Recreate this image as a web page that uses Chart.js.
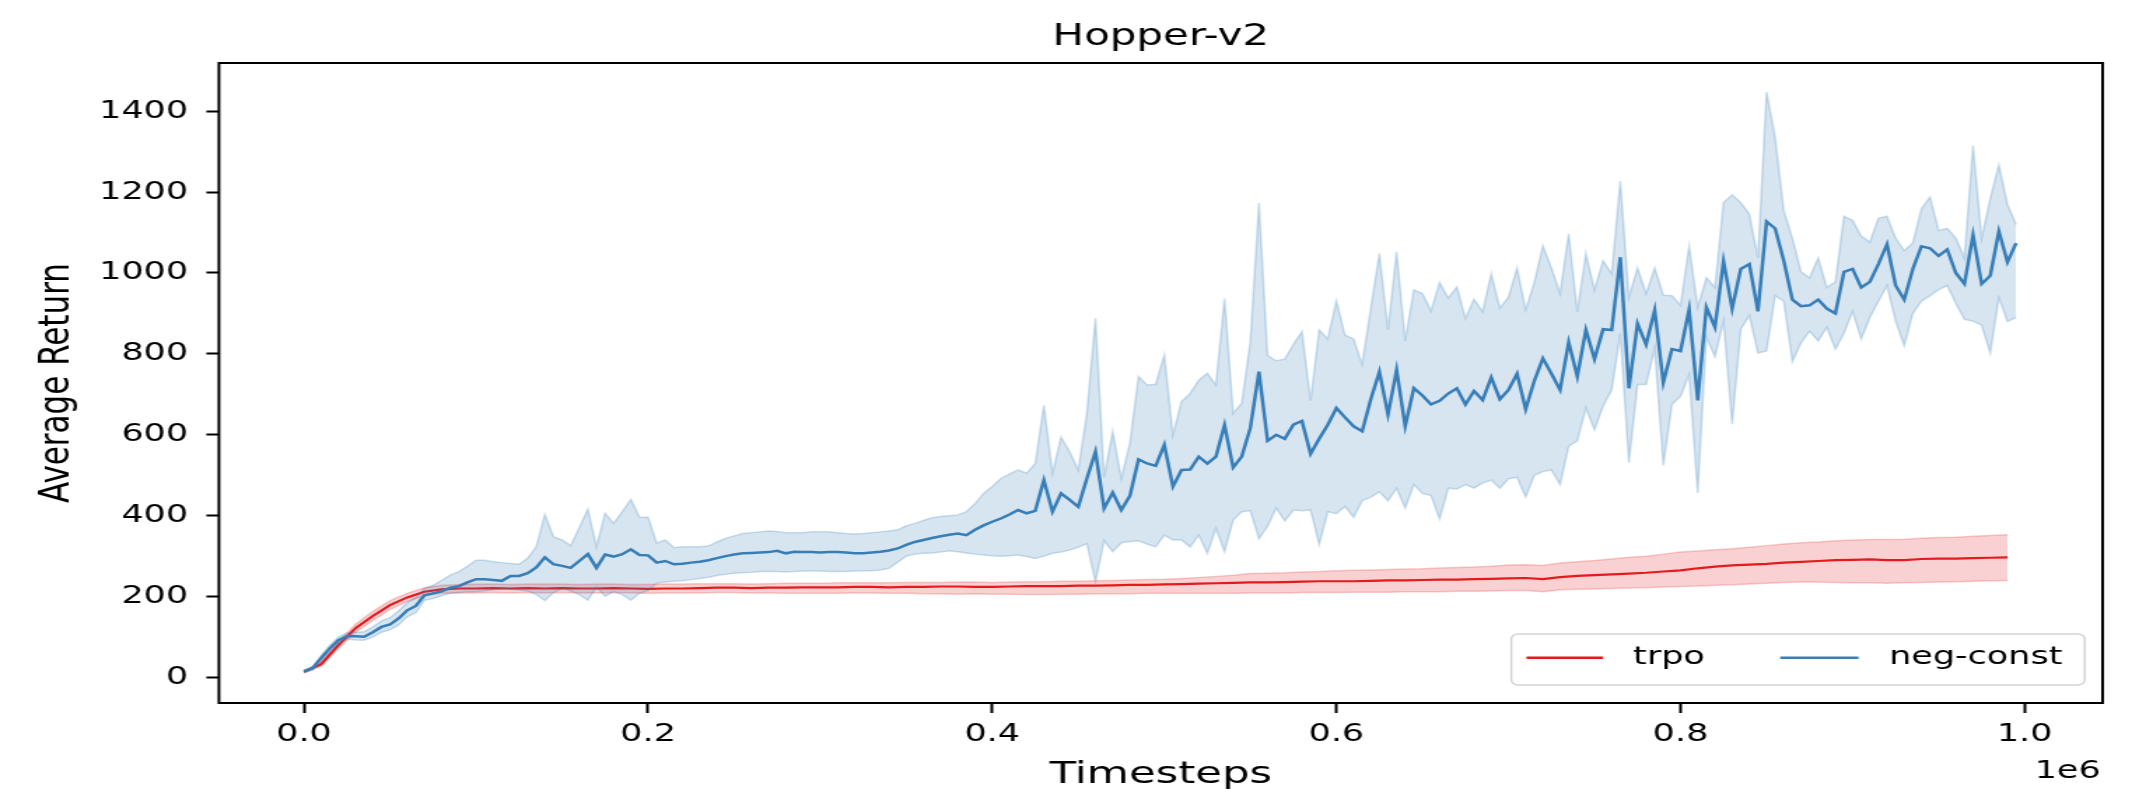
<!DOCTYPE html>
<html>
<head>
<meta charset="utf-8">
<script src="https://cdn.jsdelivr.net/npm/chart.js@4.4.1/dist/chart.umd.min.js"></script>
<style>
  html, body { margin: 0; padding: 0; background: #fff; overflow: hidden; }
  /* the reference is stretched sideways, so the chart is drawn narrow and widened */
  #wrap { width: 1533px; height: 796px; transform: scaleX(1.39987); transform-origin: 0 0; }
</style>
</head>
<body>
<div id="wrap"><canvas id="chart" width="1533" height="796"></canvas></div>
<script>
const seriesNames = ['trpo', 'neg-const'];
const negConstStep = 5000;   // timesteps between neg-const samples
const trpoStep = 10000;      // timesteps between trpo samples

const negConstMean = [
  15, 23, 48, 72, 92, 102, 102, 101, 112, 125,
  131, 146, 166, 177, 203, 208, 213, 222, 226, 235,
  243, 243, 241, 239, 251, 251, 258, 272, 297, 280,
  276, 271, 288, 305, 271, 304, 299, 305, 317, 303,
  302, 284, 288, 280, 281, 284, 286, 290, 295, 300,
  304, 307, 308, 309, 310, 313, 307, 311, 310, 310,
  309, 310, 310, 309, 307, 307, 309, 311, 314, 319,
  328, 335, 340, 345, 349, 353, 356, 352, 365, 376,
  385, 393, 403, 414, 406, 412, 488, 410, 455, 439,
  422, 492, 558, 418, 457, 414, 449, 539, 529, 523,
  575, 472, 513, 514, 546, 529, 546, 624, 519, 546,
  617, 756, 585, 600, 590, 625, 634, 553, 590, 625,
  666, 643, 621, 609, 688, 756, 650, 760, 621, 715,
  697, 675, 684, 702, 715, 675, 708, 686, 742, 688,
  711, 751, 663, 733, 789, 751, 711, 829, 744, 859,
  787, 861, 859, 1039, 715, 875, 823, 908, 729, 812,
  807, 910, 685, 915, 866, 1029, 912, 1010, 1022, 905,
  1127, 1110, 1030, 934, 918, 920, 934, 912, 900, 1003,
  1010, 964, 978, 1022, 1071, 969, 934, 1010, 1066, 1061,
  1042, 1058, 1000, 973, 1094, 973, 993, 1103, 1027, 1074
];
const negConstUpper = [
  18, 27, 55, 80, 100, 110, 112, 113, 125, 140,
  148, 165, 185, 198, 220, 228, 240, 253, 262, 275,
  290, 290, 286, 284, 282, 280, 295, 323, 403, 348,
  340, 326, 370, 416, 323, 406, 381, 410, 440, 396,
  396, 332, 340, 321, 323, 323, 323, 325, 335, 344,
  350, 356, 358, 360, 362, 361, 358, 358, 358, 360,
  360, 360, 358, 356, 355, 356, 358, 360, 362, 365,
  375, 381, 388, 395, 398, 400, 402, 410, 430, 455,
  472, 492, 503, 513, 505, 529, 673, 505, 594, 558,
  513, 653, 888, 496, 608, 492, 579, 744, 723, 725,
  797, 599, 682, 702, 735, 752, 723, 937, 653, 678,
  830, 1173, 796, 783, 787, 823, 855, 684, 859, 837,
  931, 846, 837, 774, 913, 1048, 859, 1052, 832, 958,
  949, 906, 976, 938, 965, 888, 935, 904, 998, 913,
  940, 1012, 909, 976, 1067, 1012, 949, 1097, 904, 1048,
  958, 1030, 998, 1227, 940, 1012, 949, 1012, 945, 944,
  920, 1066, 915, 988, 964, 1174, 1193, 1174, 1145, 1037,
  1447, 1335, 1154, 1086, 1003, 988, 1037, 964, 978, 1140,
  1130, 1091, 1076, 1135, 1140, 1086, 1055, 1074, 1159, 1188,
  1105, 1110, 1086, 1037, 1315, 1086, 1184, 1267, 1169, 1120
];
const negConstLower = [
  12, 19, 42, 64, 84, 95, 93, 92, 100, 112,
  118, 130, 150, 160, 191, 195, 202, 208, 210, 212,
  212, 214, 217, 220, 218, 216, 214, 205, 190, 210,
  220, 214, 205, 191, 224, 201, 212, 205, 191, 208,
  215, 233, 236, 238, 239, 242, 245, 248, 252, 255,
  258, 259, 260, 262, 262, 262, 261, 262, 263, 263,
  263, 262, 262, 262, 263, 264, 264, 266, 270, 285,
  300, 305, 307, 308, 310, 313, 311, 308, 305, 303,
  301, 300, 301, 303, 299, 294, 300, 307, 310, 315,
  322, 331, 237, 338, 311, 333, 336, 338, 330, 323,
  352, 340, 340, 323, 352, 307, 369, 311, 389, 410,
  412, 343, 374, 419, 387, 414, 412, 414, 329, 410,
  405, 423, 396, 437, 446, 459, 437, 468, 419, 477,
  455, 450, 392, 468, 466, 477, 468, 481, 488, 468,
  491, 495, 446, 500, 509, 513, 477, 572, 585, 666,
  612, 671, 711, 850, 531, 724, 724, 814, 524, 675,
  695, 749, 456, 842, 793, 881, 626, 861, 895, 802,
  807, 944, 930, 781, 827, 856, 832, 866, 812, 851,
  905, 837, 890, 930, 969, 881, 820, 900, 930, 944,
  959, 969, 925, 885, 881, 871, 802, 939, 880, 890
];

const trpoMean = [
  14, 33, 80, 122, 152, 179, 198, 212, 218, 220,
  220, 221, 220, 221, 220, 221, 220, 220, 221, 220,
  219, 220, 220, 221, 222, 222, 221, 222, 222, 223,
  223, 223, 224, 224, 223, 224, 224, 225, 225, 224,
  224, 225, 226, 226, 226, 227, 227, 228, 229, 229,
  230, 231, 232, 233, 234, 235, 235, 236, 237, 238,
  238, 238, 239, 240, 240, 241, 242, 242, 243, 244,
  245, 246, 243, 248, 251, 253, 255, 257, 259, 262,
  265, 270, 274, 277, 279, 281, 284, 286, 288, 290,
  291, 292, 290, 290, 293, 294, 294, 295, 296, 297
];
const trpoUpper = [
  17, 38, 88, 132, 163, 190, 208, 222, 228, 230,
  231, 231, 230, 231, 231, 231, 230, 231, 231, 230,
  230, 231, 231, 232, 232, 232, 231, 232, 233, 233,
  233, 234, 234, 234, 234, 235, 235, 235, 236, 236,
  235, 236, 237, 237, 238, 238, 239, 240, 241, 242,
  243, 245, 247, 250, 253, 257, 258, 259, 261, 262,
  264, 265, 266, 267, 268, 269, 271, 272, 273, 275,
  278, 279, 277, 283, 286, 289, 293, 297, 300, 305,
  310, 313, 316, 318, 322, 326, 330, 333, 335, 338,
  340, 341, 341, 342, 344, 346, 347, 349, 351, 353
];
const trpoLower = [
  11, 28, 72, 112, 141, 168, 188, 202, 208, 209,
  209, 210, 209, 210, 209, 210, 209, 209, 210, 209,
  208, 209, 209, 209, 210, 210, 209, 209, 208, 208,
  208, 208, 209, 209, 208, 208, 207, 207, 206, 207,
  206, 206, 205, 205, 206, 206, 207, 207, 207, 208,
  208, 208, 208, 208, 208, 209, 209, 209, 210, 210,
  210, 211, 211, 211, 212, 212, 212, 213, 213, 214,
  215, 215, 212, 217, 218, 219, 220, 221, 222, 224,
  225, 226, 228, 229, 231, 233, 235, 236, 236, 235,
  234, 234, 233, 234, 235, 236, 237, 238, 239, 240
];

const xTicks = [0, 200000, 400000, 600000, 800000, 1000000];
const yTicks = [0, 200, 400, 600, 800, 1000, 1200, 1400];

const RED = '#e41a1c';
const BLUE = '#377eb8';
const FONT = "'DejaVu Sans', sans-serif";

function toPoints(values, step) {
    return values.map((v, i) => ({x: i * step, y: v}));
}

function bandSet(values, step, edge, fillColor, fill, order) {
    return {
        data: toPoints(values, step),
        borderColor: edge,
        borderWidth: 1.5,
        backgroundColor: fillColor,
        fill: fill,
        pointRadius: 0,
        order: order
    };
}

// box round the plot, the legend and the 1e6 offset text
const framePlugin = {
    id: 'framePlugin',
    afterDatasetsDraw(chart) {
        const {ctx, chartArea: a} = chart;
        ctx.save();
        ctx.strokeStyle = '#000';
        ctx.lineWidth = 2;
        ctx.strokeRect(a.left, a.top, a.right - a.left, a.bottom - a.top);

        const boxW = 409.6, boxH = 51;
        const bx = a.right - 12.8 - boxW;
        const by = a.bottom - 18 - boxH;
        ctx.beginPath();
        ctx.roundRect(bx, by, boxW, boxH, 5);
        ctx.fillStyle = 'rgba(255,255,255,0.8)';
        ctx.fill();
        ctx.strokeStyle = '#d3d3d3';
        ctx.lineWidth = 1.5;
        ctx.stroke();

        const ly = by + 23.7;
        const items = [
            {color: RED, x0: 10.8, x1: 65.6, tx: 87, label: seriesNames[0]},
            {color: BLUE, x0: 192.1, x1: 248, tx: 269.8, label: seriesNames[1]}
        ];
        ctx.font = '25px ' + FONT;
        ctx.textBaseline = 'middle';
        ctx.textAlign = 'left';
        items.forEach(it => {
            ctx.strokeStyle = it.color;
            ctx.lineWidth = 2.5;
            ctx.beginPath();
            ctx.moveTo(bx + it.x0, ly);
            ctx.lineTo(bx + it.x1, ly);
            ctx.stroke();
            ctx.fillStyle = '#000';
            ctx.fillText(it.label, bx + it.tx, ly);
        });

        ctx.textAlign = 'right';
        ctx.fillText('1e6', a.right - 1.4, 771);
        ctx.restore();
    }
};

const ctx = document.getElementById('chart');
const chart = new Chart(ctx, {
    type: 'line',
    data: {
        datasets: [
            {
                label: seriesNames[1],
                data: toPoints(negConstMean, negConstStep),
                borderColor: BLUE,
                borderWidth: 2.5,
                pointRadius: 0,
                fill: false,
                order: 3
            },
            bandSet(negConstUpper, negConstStep, 'rgba(55,126,184,0.25)', 'rgba(55,126,184,0.2)', '+1', 4),
            bandSet(negConstLower, negConstStep, 'rgba(55,126,184,0.25)', 'transparent', false, 4),
            {
                label: seriesNames[0],
                data: toPoints(trpoMean, trpoStep),
                borderColor: RED,
                borderWidth: 2.2,
                pointRadius: 0,
                fill: false,
                order: 5
            },
            bandSet(trpoUpper, trpoStep, 'rgba(228,26,28,0.22)', 'rgba(228,26,28,0.2)', '+1', 6),
            bandSet(trpoLower, trpoStep, 'rgba(228,26,28,0.22)', 'transparent', false, 6)
        ]
    },
    options: {
        responsive: false,
        animation: false,
        devicePixelRatio: 1,
        events: [],
        parsing: false,
        layout: {padding: {left: 0, right: 31, top: 0, bottom: 0}},
        plugins: {
            legend: {display: false},
            tooltip: {enabled: false},
            title: {
                display: true,
                fullSize: false,
                text: 'Hopper-v2',
                color: '#000',
                font: {family: FONT, size: 30, weight: 'normal'},
                padding: {top: 19, bottom: 8}
            }
        },
        scales: {
            x: {
                type: 'linear',
                min: -49400,
                max: 1045300,
                border: {display: false},
                grid: {drawOnChartArea: false, drawTicks: true, tickLength: 10, tickWidth: 2, tickColor: '#000'},
                afterBuildTicks: (scale) => { scale.ticks = xTicks.map(v => ({value: v})); },
                afterFit: (scale) => { scale.height = 93; },
                ticks: {
                    color: '#000',
                    padding: 6,
                    maxRotation: 0,
                    font: {family: FONT, size: 25},
                    callback: (v) => (v / 1e6).toFixed(1)
                },
                title: {
                    display: true,
                    text: 'Timesteps',
                    color: '#000',
                    font: {family: FONT, size: 31},
                    padding: {top: 0, bottom: 2}
                }
            },
            y: {
                type: 'linear',
                min: -63,
                max: 1519,
                border: {display: false},
                grid: {drawOnChartArea: false, drawTicks: true, tickLength: 9, tickWidth: 2, tickColor: '#000'},
                afterBuildTicks: (scale) => { scale.ticks = yTicks.map(v => ({value: v})); },
                afterFit: (scale) => { scale.width = 156.4; },
                ticks: {
                    color: '#000',
                    padding: 13,
                    font: {family: FONT, size: 25},
                    callback: (v) => String(v)
                },
                title: {
                    display: true,
                    text: 'Average Return',
                    color: '#000',
                    font: {family: FONT, size: 31},
                    padding: {top: 22, bottom: 0}
                }
            }
        }
    },
    plugins: [framePlugin]
});
</script>
</body>
</html>
